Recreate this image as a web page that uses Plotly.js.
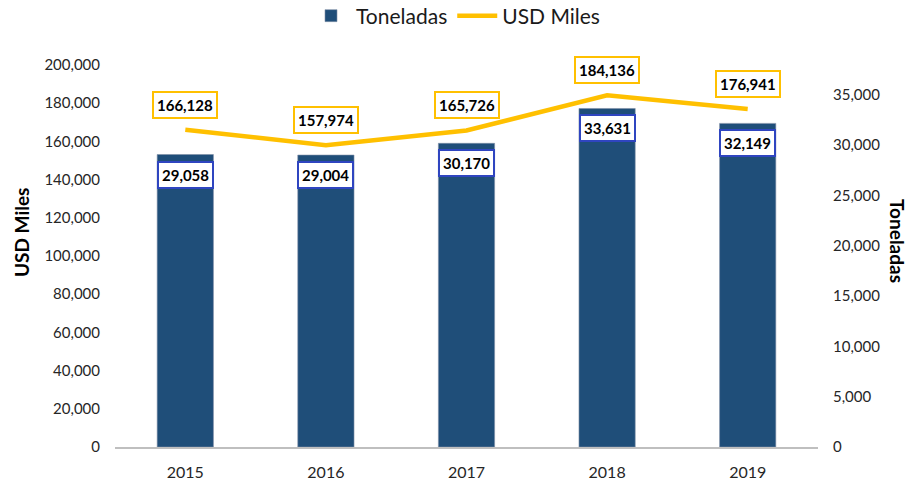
<!DOCTYPE html>
<html>
<head>
<meta charset="utf-8">
<script src="https://cdn.plot.ly/plotly-3.0.1.min.js"></script>
<style>html,body{margin:0;padding:0;background:#fff;}#chart{width:911px;height:481px;}</style>
</head>
<body>
<div id="chart"></div>
<script>
const years = ['2015', '2016', '2017', '2018', '2019'];
const toneladas = [29058, 29004, 30170, 33631, 32149];
const usdMiles = [166128, 157974, 165726, 184136, 176941];

const FONT = 'Lato, "Open Sans", sans-serif';
const fmt = v => v.toLocaleString('en-US');

const traces = [
  {
    type: 'bar', name: 'Toneladas', x: years, y: toneladas, yaxis: 'y2',
    marker: {color: '#1F4E79', line: {color: '#7F8FA6', width: 0.6}},
    hoverinfo: 'x+y'
  },
  {
    type: 'scatter', mode: 'lines', name: 'USD Miles', x: years, y: usdMiles, yaxis: 'y',
    line: {color: '#FFC000', width: 4.5},
    hoverinfo: 'x+y'
  }
];

const annotations = [];
years.forEach((yr, i) => {
  // category axis: position by category index
  annotations.push({
    x: i, y: usdMiles[i], xref: 'x', yref: 'y', yshift: 25,
    text: fmt(usdMiles[i]), showarrow: false,
    font: {family: FONT, size: 15, color: '#000', weight: 'bold'},
    bgcolor: '#fff', bordercolor: '#FFC000', borderwidth: 2, borderpad: 3
  });
  annotations.push({
    x: i, y: toneladas[i], xref: 'x', yref: 'y2', yshift: -20,
    text: fmt(toneladas[i]), showarrow: false,
    font: {family: FONT, size: 15, color: '#000', weight: 'bold'},
    bgcolor: '#fff', bordercolor: '#2F45C0', borderwidth: 2, borderpad: 3
  });
});
// axis titles (left reads bottom-to-top, right reads top-to-bottom)
annotations.push({
  text: 'USD Miles', textangle: -90, showarrow: false,
  xref: 'paper', yref: 'paper', x: (21 - 115) / 703, y: (447 - 233) / 382,
  xanchor: 'center', yanchor: 'middle',
  font: {family: FONT, size: 19, color: '#000', weight: 'bold'}
});
annotations.push({
  text: 'Toneladas', textangle: 90, showarrow: false,
  xref: 'paper', yref: 'paper', x: (898 - 115) / 703, y: (447 - 241) / 382,
  xanchor: 'center', yanchor: 'middle',
  font: {family: FONT, size: 19, color: '#000', weight: 'bold'}
});

const layout = {
  width: 911, height: 481,
  margin: {l: 115, r: 93, t: 65, b: 34, pad: 0},
  paper_bgcolor: '#fff', plot_bgcolor: '#fff',
  font: {family: FONT, color: '#262626'},
  bargap: 0.6,
  showlegend: true,
  legend: {
    orientation: 'h', xref: 'container', yref: 'container',
    x: 0.5, xanchor: 'center', y: 1 - 16 / 481, yanchor: 'middle',
    font: {family: FONT, size: 21, color: '#1a1a1a'},
    itemwidth: 40, traceorder: 'normal'
  },
  xaxis: {
    type: 'category', categoryarray: years, range: [-0.5, years.length - 0.5],
    showline: true, linecolor: '#BFBFBF', linewidth: 1.5,
    ticks: '', showgrid: false, zeroline: false,
    tickfont: {family: FONT, size: 16, color: '#262626'},
    ticklabelstandoff: 10
  },
  yaxis: {
    range: [0, 200000], dtick: 20000, tickformat: ',', showgrid: false, zeroline: false,
    showline: false, ticks: '',
    tickfont: {family: FONT, size: 15, color: '#262626'},
    ticklabelstandoff: 14
  },
  yaxis2: {
    overlaying: 'y', side: 'right',
    range: [0, 37950], dtick: 5000, tickformat: ',', showgrid: false, zeroline: false,
    showline: false, ticks: '',
    tickfont: {family: FONT, size: 15, color: '#262626'},
    ticklabelstandoff: 14
  },
  annotations: annotations
};

Plotly.newPlot('chart', traces, layout, {displayModeBar: false, staticPlot: true});
</script>
</body>
</html>
